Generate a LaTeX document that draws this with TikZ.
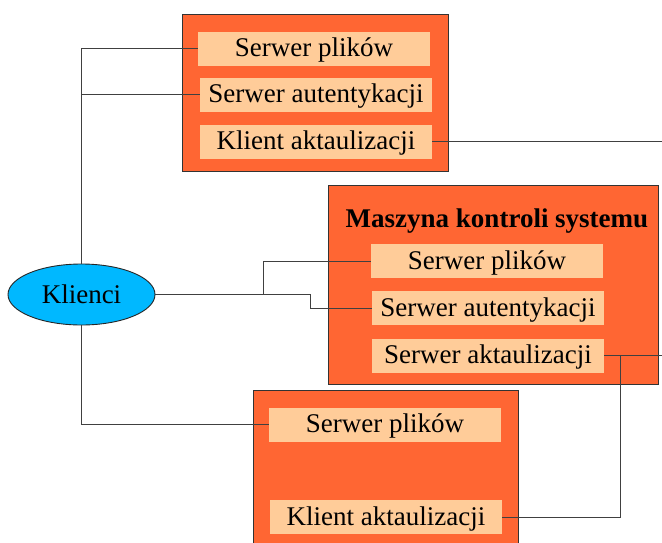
\documentclass[tikz,border=0pt]{standalone}
\usepackage{fontspec}
\setmainfont{Liberation Serif}
\usetikzlibrary{shapes.geometric}
\definecolor{hostfill}{HTML}{FF6633}
\definecolor{svcfill}{HTML}{FFCC99}
\definecolor{clientfill}{HTML}{00B8FF}
\begin{document}
\begin{tikzpicture}[x=1pt,y=-1pt,
  lbl/.style={font=\fontsize{27}{32}\selectfont},
  host/.style={draw=black!80, fill=hostfill, line width=0.9pt, inner sep=0pt, anchor=north west},
  svc/.style={lbl, fill=svcfill, inner sep=0pt, minimum width=232pt, minimum height=34pt,
              text height=22pt, text depth=6pt},
  link/.style={draw=black!75, line width=0.9pt}]
\useasboundingbox (0,0) rectangle (662,542);
\clip (0,0) rectangle (662,542);
\fill[white] (0,0) rectangle (662,542);

% machines
\node[host, minimum width=266pt, minimum height=157pt] (hostA) at (182,14) {};
\node[host, minimum width=330pt, minimum height=199pt] (hostB) at (328,185) {};
\node[host, minimum width=265pt, minimum height=170pt] (hostC) at (253,390) {};

\node[lbl, font=\bfseries\fontsize{27}{32}\selectfont, anchor=base] (title) at (497,227) {Maszyna kontroli systemu};

% services of the first machine
\node[svc] (sp1) at (314,48.5) {Serwer plików};
\node[svc] (sa1) at (316,94.5) {Serwer autentykacji};
\node[svc] (ka1) at (316,141.5) {Klient aktaulizacji};

% services of the control machine
\node[svc] (sp2) at (487,261) {Serwer plików};
\node[svc] (sa2) at (488,308) {Serwer autentykacji};
\node[svc] (sk2) at (488,355.5) {Serwer aktaulizacji};

% services of the third machine
\node[svc] (sp3) at (385,424.5) {Serwer plików};
\node[svc] (ka3) at (386,517) {Klient aktaulizacji};

% clients
\node[lbl, ellipse, draw=black!85, line width=0.9pt, fill=clientfill, inner sep=0pt,
      minimum width=147pt, minimum height=61pt] (kl) at (81.5,294.5) {Klienci};

% junction points
\coordinate (j1) at (263,294.5);
\coordinate (j2) at (310,294.5);
\coordinate (j3) at (620,0);
\coordinate (rim) at (662,0);

% connections
\draw[link] (kl.north) |- (sp1.west);
\draw[link] (kl.north |- sa1.west) -- (sa1.west);
\draw[link] (kl.south) |- (sp3.west);
\draw[link] (kl.east) -- (j2) |- (sa2.west);
\draw[link] (j1) |- (sp2.west);
\draw[link] (ka1.east) -- (ka1.east -| rim);
\draw[link] (sk2.east) -- (sk2.east -| rim);
\draw[link] (sk2.east -| j3) |- (ka3.east);
\end{tikzpicture}
\end{document}
